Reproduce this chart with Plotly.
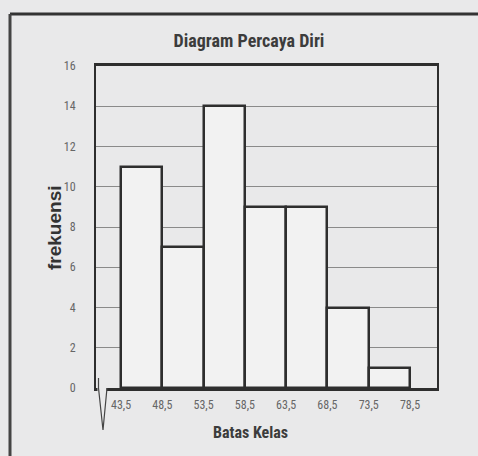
import plotly.graph_objects as go

# ---- data ----
class_edges = [43.5, 48.5, 53.5, 58.5, 63.5, 68.5, 73.5, 78.5]
edge_labels = ["43,5", "48,5", "53,5", "58,5", "63,5", "68,5", "73,5", "78,5"]
frequencies = [11, 7, 14, 9, 9, 4, 1]
y_ticks = [0, 2, 4, 6, 8, 10, 12, 14, 16]

mids = [(a + b) / 2 for a, b in zip(class_edges[:-1], class_edges[1:])]
widths = [b - a for a, b in zip(class_edges[:-1], class_edges[1:])]

W, H = 478, 456
L, R, T, B = 96, 41, 66, 68
BG = "#e9e9ea"
DARK = "#2e2e2e"
NARROW = "Liberation Sans Narrow, Roboto Condensed, DejaVu Sans Condensed, Arial Narrow, sans-serif"

pw, ph = W - L - R, H - T - B


def px(x):
    return (x - L) / pw


def py(y):
    return (H - B - y) / ph


fig = go.Figure(go.Bar(
    x=mids, y=frequencies, width=widths,
    marker=dict(color="#f2f2f2", line=dict(color=DARK, width=2.5)),
    hoverinfo="skip",
))

fig.update_layout(
    width=W, height=H,
    margin=dict(l=L, r=R, t=T, b=B),
    paper_bgcolor=BG, plot_bgcolor=BG,
    showlegend=False,
    bargap=0,
    title=dict(text="<b>Diagram Percaya Diri</b>", x=249 / W, xanchor="center",
               y=1 - 41 / H, yanchor="middle",
               font=dict(family=NARROW, size=18, color="#3c3c3c")),
    xaxis=dict(range=[40.47, 81.77], tickvals=class_edges, ticktext=edge_labels,
               showgrid=False, zeroline=False, showline=True, linecolor=DARK,
               linewidth=2.5, mirror=True, ticks="", ticklabelstandoff=4,
               tickfont=dict(family=NARROW, size=12, color="#666666")),
    yaxis=dict(range=[0, 16], tickvals=y_ticks, showgrid=True, gridcolor="#8a8a8a",
               gridwidth=1, zeroline=False, showline=True, linecolor=DARK,
               linewidth=2, mirror=True, ticks="", ticklabelstandoff=16,
               tickfont=dict(family=NARROW, size=12, color="#666666")),
    annotations=[
        dict(text="<b>Batas Kelas</b>", xref="paper", yref="paper",
             x=px(250), y=py(432), xanchor="center", yanchor="middle",
             showarrow=False, font=dict(family=NARROW, size=16, color="#3c3c3c")),
        dict(text="<b>frekuensi</b>", xref="paper", yref="paper", textangle=-90,
             x=px(55), y=py(228), xanchor="center", yanchor="middle",
             showarrow=False, font=dict(family="Liberation Sans, Arial, sans-serif",
                                        size=19, color="#333333")),
    ],
    shapes=[
        # outer frame (top and left)
        dict(type="line", xref="paper", yref="paper", x0=px(10), x1=px(W + 5),
             y0=py(14), y1=py(14), line=dict(color="#333333", width=3), layer="above"),
        dict(type="line", xref="paper", yref="paper", x0=px(10), x1=px(10),
             y0=py(14), y1=py(H + 5), line=dict(color="#444444", width=3), layer="above"),
        # axis break cover + zigzag
        dict(type="rect", xref="paper", yref="paper", x0=px(97.5), x1=px(106.5),
             y0=py(391), y1=py(385.5), fillcolor=BG, line=dict(width=0), layer="above"),
        dict(type="path", xref="paper", yref="paper",
             path=(f"M {px(98.5)},{py(378)} L {px(98.5)},{py(388)} "
                   f"L {px(103)},{py(430)} L {px(107)},{py(388)}"),
             line=dict(color="#444444", width=1.2), layer="above"),
    ],
)

fig.write_html(
    "out.html",
    config={"displayModeBar": False},
    post_script="document.body.style.margin='0';document.body.style.background='" + BG + "';",
)
